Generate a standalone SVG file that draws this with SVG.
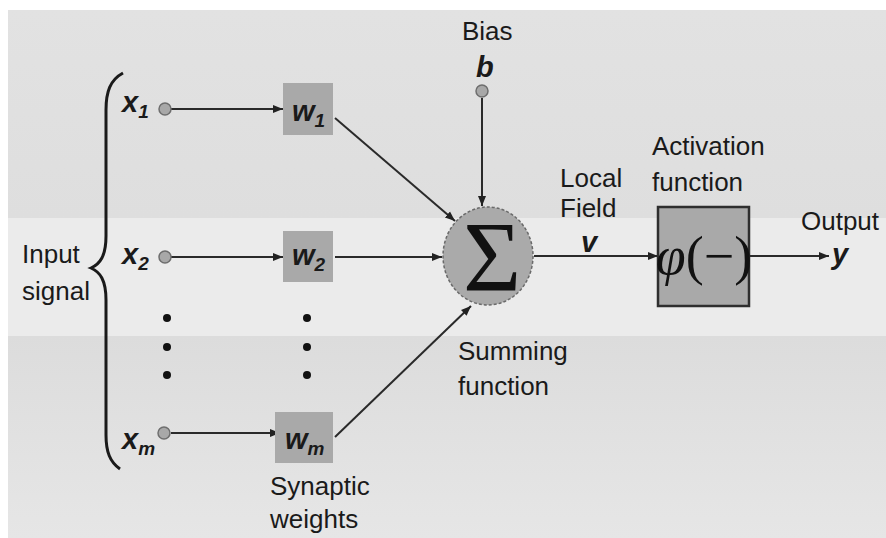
<svg xmlns="http://www.w3.org/2000/svg" width="886" height="538" viewBox="0 0 886 538">
<defs>
<marker id="ah" viewBox="0 0 10 10" refX="10" refY="5" markerWidth="5" markerHeight="5" orient="auto" markerUnits="strokeWidth">
<path d="M0,1 L10,5 L0,9 z" fill="#222"/>
</marker>
<linearGradient id="bgTop" x1="0" y1="0" x2="0" y2="1">
<stop offset="0" stop-color="#e2e2e2"/><stop offset="1" stop-color="#dedede"/>
</linearGradient>
<linearGradient id="bgBot" x1="0" y1="0" x2="0" y2="1">
<stop offset="0" stop-color="#dcdcdc"/><stop offset="1" stop-color="#e6e6e6"/>
</linearGradient>
</defs>
<style>
.lbl{font-family:"Liberation Sans",Arial,sans-serif;font-size:26px;fill:#1a1a1a}
.var{font-family:"Liberation Sans",Arial,sans-serif;font-size:29px;font-style:italic;font-weight:bold;fill:#1a1a1a}
.sub{font-size:19px}
.wbox{fill:#a9a9a9}
.inode{fill:#a8a8a8;stroke:#6e6e6e;stroke-width:1.5}
.conn{stroke:#2a2a2a;stroke-width:2;fill:none;marker-end:url(#ah)}
.dot{fill:#111}
</style>
<rect x="0" y="0" width="886" height="538" fill="#ffffff"/>
<rect x="8" y="10" width="878" height="208" fill="url(#bgTop)"/>
<rect x="8" y="218" width="878" height="118" fill="#ebebeb"/>
<rect x="8" y="336" width="878" height="202" fill="url(#bgBot)"/>

<g id="connectors">
<line class="conn" x1="171" y1="109" x2="283" y2="109"/>
<line class="conn" x1="171" y1="257" x2="283" y2="257"/>
<line class="conn" x1="171" y1="433" x2="280" y2="433"/>
<line class="conn" x1="335" y1="118" x2="455" y2="221"/>
<line class="conn" x1="335" y1="257" x2="442" y2="257"/>
<line class="conn" x1="335" y1="437" x2="471" y2="306"/>
<line class="conn" x1="482" y1="98" x2="482" y2="206"/>
<line class="conn" x1="534" y1="256" x2="658" y2="256"/>
<line class="conn" x1="750" y1="256" x2="829" y2="256"/>
</g>

<g id="brace">
<path d="M123,73 C110,80 106,92 106,110 L106,236 C106,256 100,264 91,268 C100,272 106,280 106,300 L106,435 C106,452 110,462 120,469" fill="none" stroke="#1a1a1a" stroke-width="3"/>
</g>
<g id="input-signal">
<text class="lbl" x="22" y="263">Input</text>
<text class="lbl" x="22" y="300">signal</text>
</g>

<g id="x1">
<text class="var" x="122" y="112">x<tspan class="sub" dy="6">1</tspan></text>
<circle class="inode" cx="165" cy="109" r="6"/>
</g>
<g id="x2">
<text class="var" x="122" y="264">x<tspan class="sub" dy="6">2</tspan></text>
<circle class="inode" cx="165" cy="257" r="6"/>
</g>
<g id="xm">
<text class="var" x="122" y="449">x<tspan class="sub" dy="6">m</tspan></text>
<circle class="inode" cx="164" cy="433" r="6"/>
</g>

<g id="dots-x">
<circle class="dot" cx="167" cy="318" r="4"/>
<circle class="dot" cx="167" cy="347" r="4"/>
<circle class="dot" cx="167" cy="375" r="4"/>
</g>
<g id="dots-w">
<circle class="dot" cx="307" cy="318" r="4"/>
<circle class="dot" cx="307" cy="347" r="4"/>
<circle class="dot" cx="307" cy="375" r="4"/>
</g>

<g id="w1">
<rect class="wbox" x="283" y="83" width="50" height="52"/>
<text class="var" x="292" y="121">w<tspan class="sub" dy="6">1</tspan></text>
</g>
<g id="w2">
<rect class="wbox" x="283" y="231" width="50" height="51"/>
<text class="var" x="292" y="265">w<tspan class="sub" dy="6">2</tspan></text>
</g>
<g id="wm">
<rect class="wbox" x="275" y="412" width="58" height="51"/>
<text class="var" x="285" y="449">w<tspan class="sub" dy="6">m</tspan></text>
</g>
<g id="synaptic-weights">
<text class="lbl" x="270" y="495">Synaptic</text>
<text class="lbl" x="270" y="528">weights</text>
</g>

<g id="bias">
<text class="lbl" x="462" y="40">Bias</text>
<text class="var" x="476" y="77">b</text>
<circle class="inode" cx="482" cy="91" r="6"/>
</g>

<g id="sum">
<ellipse cx="488" cy="256" rx="45" ry="49" fill="#aaaaaa" stroke="#6a6a6a" stroke-width="1.5" stroke-dasharray="3,2"/>
<text x="492" y="290" text-anchor="middle" font-family="'Liberation Serif','Times New Roman',serif" font-size="100" fill="#111">Σ</text>
</g>
<g id="summing-function">
<text class="lbl" x="458" y="360">Summing</text>
<text class="lbl" x="458" y="395">function</text>
</g>

<g id="local-field">
<text class="lbl" x="560" y="187">Local</text>
<text class="lbl" x="560" y="217">Field</text>
<text class="var" x="581" y="252">v</text>
</g>

<g id="activation">
<rect x="658" y="207" width="91" height="99" fill="#a9a9a9" stroke="#2e2e2e" stroke-width="2.5"/>
<text x="704" y="274" text-anchor="middle" font-family="'Liberation Serif','Times New Roman',serif" font-size="54" fill="#111"><tspan font-style="italic">φ</tspan>(−)</text>
</g>
<g id="activation-label">
<text class="lbl" x="652" y="155">Activation</text>
<text class="lbl" x="652" y="191">function</text>
</g>

<g id="output">
<text class="lbl" x="801" y="230">Output</text>
<text class="var" x="832" y="264">y</text>
</g>
</svg>
